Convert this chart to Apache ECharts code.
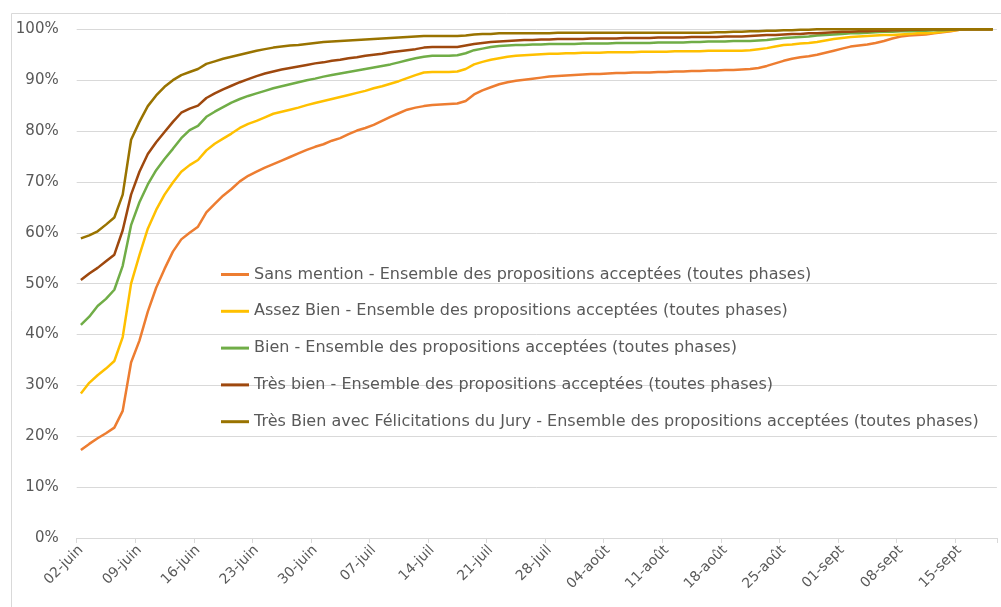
<!DOCTYPE html>
<html>
<head>
<meta charset="utf-8">
<script src="https://cdn.jsdelivr.net/npm/echarts@6/dist/echarts.min.js"></script>
<style>
html,body{margin:0;padding:0;background:#fff;}
#chart{width:1001px;height:607px;}
</style>
</head>
<body>
<div id="chart"></div>
<script>
const categories = [
 '02-juin','03-juin','04-juin','05-juin','06-juin','07-juin','08-juin','09-juin','10-juin','11-juin',
 '12-juin','13-juin','14-juin','15-juin','16-juin','17-juin','18-juin','19-juin','20-juin','21-juin',
 '22-juin','23-juin','24-juin','25-juin','26-juin','27-juin','28-juin','29-juin','30-juin',
 '01-juil','02-juil','03-juil','04-juil','05-juil','06-juil','07-juil','08-juil','09-juil','10-juil',
 '11-juil','12-juil','13-juil','14-juil','15-juil','16-juil','17-juil','18-juil','19-juil','20-juil',
 '21-juil','22-juil','23-juil','24-juil','25-juil','26-juil','27-juil','28-juil','29-juil','30-juil','31-juil',
 '01-août','02-août','03-août','04-août','05-août','06-août','07-août','08-août','09-août','10-août',
 '11-août','12-août','13-août','14-août','15-août','16-août','17-août','18-août','19-août','20-août',
 '21-août','22-août','23-août','24-août','25-août','26-août','27-août','28-août','29-août','30-août','31-août',
 '01-sept','02-sept','03-sept','04-sept','05-sept','06-sept','07-sept','08-sept','09-sept','10-sept',
 '11-sept','12-sept','13-sept','14-sept','15-sept','16-sept','17-sept','18-sept','19-sept'
];

const seriesNames = [
 'Sans mention - Ensemble des propositions acceptées (toutes phases)',
 'Assez Bien - Ensemble des propositions acceptées (toutes phases)',
 'Bien - Ensemble des propositions acceptées (toutes phases)',
 'Très bien - Ensemble des propositions acceptées (toutes phases)',
 'Très Bien avec Félicitations du Jury - Ensemble des propositions acceptées (toutes phases)'
];

const sansMention = [
 17.3,18.5,19.6,20.6,21.7,25.0,34.5,38.8,44.5,49.2,
 52.9,56.3,58.7,60.0,61.2,64.0,65.7,67.3,68.6,70.1,
 71.2,72.0,72.8,73.5,74.2,74.9,75.6,76.3,76.9,77.4,
 78.1,78.6,79.4,80.1,80.6,81.2,82.0,82.8,83.5,84.2,
 84.6,84.9,85.1,85.2,85.3,85.4,85.9,87.2,88.0,88.6,
 89.2,89.6,89.9,90.1,90.3,90.5,90.7,90.8,90.9,91.0,
 91.1,91.2,91.2,91.3,91.4,91.4,91.5,91.5,91.5,91.6,
 91.6,91.7,91.7,91.8,91.8,91.9,91.9,92.0,92.0,92.1,
 92.2,92.4,92.8,93.3,93.8,94.2,94.5,94.7,95.0,95.4,
 95.8,96.2,96.6,96.8,97.0,97.3,97.7,98.2,98.6,98.8,
 98.9,99.0,99.2,99.4,99.6,99.9,100,100,100,100
];

const assezBien = [
 28.4,30.5,32.0,33.3,34.8,39.5,50.0,55.6,60.8,64.5,
 67.5,69.9,72.0,73.3,74.3,76.2,77.5,78.5,79.5,80.6,
 81.4,82.0,82.7,83.4,83.8,84.2,84.6,85.1,85.5,85.9,
 86.3,86.7,87.1,87.5,87.9,88.4,88.8,89.3,89.8,90.4,
 91.0,91.5,91.6,91.6,91.6,91.7,92.2,93.1,93.6,94.0,
 94.3,94.6,94.8,94.9,95.0,95.1,95.2,95.2,95.3,95.3,
 95.4,95.4,95.4,95.5,95.5,95.5,95.5,95.6,95.6,95.6,
 95.6,95.7,95.7,95.7,95.7,95.8,95.8,95.8,95.8,95.8,
 95.9,96.1,96.3,96.6,96.9,97.0,97.2,97.3,97.5,97.8,
 98.1,98.3,98.5,98.6,98.7,98.8,98.9,98.9,99.0,99.1,
 99.2,99.2,99.3,99.5,99.7,99.9,100,100,100,100
];

const bien = [
 41.9,43.5,45.6,47.0,48.8,53.5,61.5,66.0,69.5,72.3,
 74.5,76.5,78.6,80.2,81.0,82.8,83.8,84.7,85.6,86.3,
 86.9,87.4,87.9,88.4,88.8,89.2,89.6,90.0,90.3,90.7,
 91.0,91.3,91.6,91.9,92.2,92.5,92.8,93.1,93.5,93.9,
 94.3,94.6,94.8,94.8,94.8,94.9,95.3,95.9,96.2,96.5,
 96.7,96.8,96.9,96.9,97.0,97.0,97.1,97.1,97.1,97.1,
 97.2,97.2,97.2,97.2,97.3,97.3,97.3,97.3,97.3,97.4,
 97.4,97.4,97.4,97.5,97.5,97.6,97.6,97.6,97.7,97.7,
 97.7,97.8,97.9,98.1,98.3,98.4,98.5,98.6,98.8,98.9,
 99.0,99.1,99.2,99.2,99.3,99.4,99.5,99.5,99.6,99.6,
 99.7,99.7,99.8,99.8,99.9,100,100,100,100,100
];

const tresBien = [
 50.7,52.0,53.1,54.4,55.7,60.5,67.5,72.0,75.5,77.8,
 79.8,81.8,83.6,84.4,85.0,86.5,87.4,88.2,88.9,89.6,
 90.2,90.8,91.3,91.7,92.1,92.4,92.7,93.0,93.3,93.5,
 93.8,94.0,94.3,94.5,94.8,95.0,95.2,95.5,95.7,95.9,
 96.1,96.4,96.5,96.5,96.5,96.5,96.8,97.1,97.3,97.5,
 97.6,97.7,97.8,97.9,97.9,98.0,98.0,98.1,98.1,98.1,
 98.1,98.2,98.2,98.2,98.2,98.3,98.3,98.3,98.3,98.4,
 98.4,98.4,98.4,98.5,98.5,98.5,98.5,98.6,98.6,98.6,
 98.7,98.8,98.9,98.9,99.0,99.1,99.1,99.2,99.2,99.3,
 99.4,99.5,99.5,99.6,99.6,99.7,99.7,99.8,99.8,99.9,
 99.9,100,100,100,100,100,100,100,100,100
];

const felicitations = [
 58.9,59.5,60.3,61.6,63.0,67.5,78.3,81.8,84.9,87.0,
 88.7,90.0,91.0,91.6,92.2,93.2,93.7,94.2,94.6,95.0,
 95.4,95.8,96.1,96.4,96.6,96.8,96.9,97.1,97.3,97.5,
 97.6,97.7,97.8,97.9,98.0,98.1,98.2,98.3,98.4,98.5,
 98.6,98.7,98.7,98.7,98.7,98.7,98.8,99.0,99.1,99.1,
 99.2,99.2,99.2,99.2,99.2,99.2,99.2,99.3,99.3,99.3,
 99.3,99.3,99.3,99.3,99.3,99.3,99.3,99.3,99.3,99.3,
 99.3,99.3,99.3,99.3,99.3,99.3,99.4,99.4,99.5,99.5,
 99.6,99.6,99.7,99.7,99.8,99.8,99.9,99.9,100,100,
 100,100,100,100,100,100,100,100,100,100,
 100,100,100,100,100,100,100,100,100,100
];

const colors = ['#ED7D31', '#FFC000', '#70AD47', '#9E480E', '#997300'];
const allData = [sansMention, assezBien, bien, tresBien, felicitations];

const FONT = '"DejaVu Sans", sans-serif';
const chart = echarts.init(document.getElementById('chart'), null, {renderer: 'canvas'});

chart.setOption({
  animation: false,
  backgroundColor: '#ffffff',
  color: colors,
  graphic: [{
    type: 'rect',
    shape: {x: 11.5, y: 13.5, width: 1010, height: 620},
    style: {fill: 'none', stroke: '#D9D9D9', lineWidth: 1},
    silent: true
  }],
  grid: {left: 76.7, right: 4.1, top: 29.3, bottom: 69, containLabel: false},
  legend: {
    orient: 'vertical',
    left: 221,
    top: 264.5,
    padding: 0,
    icon: 'rect',
    itemWidth: 28,
    itemHeight: 3,
    itemGap: 16.8,
    textStyle: {fontFamily: FONT, fontSize: 16, color: '#595959', lineHeight: 20},
    data: seriesNames
  },
  xAxis: {
    type: 'category',
    data: categories,
    boundaryGap: true,
    axisLine: {show: true, lineStyle: {color: '#D9D9D9', width: 1}},
    axisTick: {show: true, interval: 6, alignWithLabel: false, length: 5, lineStyle: {color: '#D9D9D9'}},
    axisLabel: {interval: 6, rotate: 45, margin: 10, fontFamily: FONT, fontSize: 14, color: '#595959'},
    splitLine: {show: false}
  },
  yAxis: {
    type: 'value',
    min: 0,
    max: 100,
    interval: 10,
    axisLine: {show: false},
    axisTick: {show: false},
    axisLabel: {formatter: '{value}%', margin: 18, fontFamily: FONT, fontSize: 15, color: '#595959'},
    splitLine: {lineStyle: {color: '#D9D9D9', width: 1}}
  },
  series: seriesNames.map((name, i) => ({
    name: name,
    type: 'line',
    data: allData[i],
    symbol: 'none',
    showSymbol: false,
    smooth: false,
    lineStyle: {width: 2.5, color: colors[i]},
    itemStyle: {color: colors[i]}
  }))
});
</script>
</body>
</html>
